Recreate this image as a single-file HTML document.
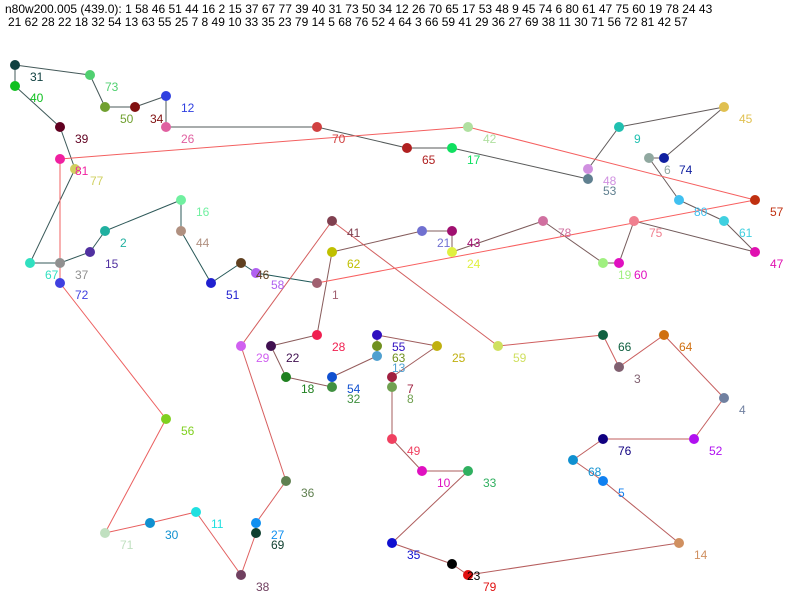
<!DOCTYPE html>
<html><head><meta charset="utf-8"><style>
body{margin:0;background:#fff;width:800px;height:600px;overflow:hidden}
svg{display:block}
text{font-family:"Liberation Sans",sans-serif;font-size:12px}
</style></head><body>
<svg id="s" width="800" height="600" xmlns="http://www.w3.org/2000/svg">
<text x="5" y="13" fill="#000">n80w200.005 (439.0): 1 58 46 51 44 16 2 15 37 67 77 39 40 31 73 50 34 12 26 70 65 17 53 48 9 45 74 6 80 61 47 75 60 19 78 24 43</text>
<text x="8" y="26" fill="#000">21 62 28 22 18 32 54 13 63 55 25 7 8 49 10 33 35 23 79 14 5 68 76 52 4 64 3 66 59 41 29 36 27 69 38 11 30 71 56 72 81 42 57</text>
</svg>
<script>
var N={1:[317,283,"#a06070"],58:[256,273,"#b060f0"],46:[241,263,"#604020"],51:[211,283,"#2020d0"],44:[181,231,"#b09080"],16:[181,200,"#70f0a0"],2:[105,231,"#20b0a0"],15:[90,252,"#5030a0"],37:[60,263,"#909090"],67:[30,263,"#30e0c0"],77:[75,169,"#d0d060"],39:[60,127,"#600020"],40:[15,86,"#10c020"],31:[15,65,"#104040"],73:[90,75,"#50d070"],50:[105,107,"#70a030"],34:[135,107,"#801010"],12:[166,96,"#3040e0"],26:[166,127,"#e060a0"],70:[317,127,"#d04040"],65:[407,148,"#b02020"],17:[452,148,"#10e060"],53:[588,179,"#608090"],48:[588,169,"#d090e0"],9:[619,127,"#20c0b0"],45:[724,107,"#e0c050"],74:[664,158,"#1020a0"],6:[649,158,"#90a8a0"],80:[679,200,"#40c0f0"],61:[724,221,"#40d0e0"],47:[755,252,"#e010b0"],75:[634,221,"#f08090"],60:[619,263,"#e010c0"],19:[603,263,"#a0f080"],78:[543,221,"#d070a0"],24:[452,252,"#e0f040"],43:[452,231,"#a01070"],21:[422,231,"#7070d0"],62:[332,252,"#c0c000"],28:[317,335,"#f02050"],22:[271,346,"#401050"],18:[286,377,"#208020"],32:[332,387,"#409040"],54:[332,377,"#1050d0"],13:[377,356,"#50a0d0"],63:[377,346,"#709020"],55:[377,335,"#3010c0"],25:[437,346,"#c0b010"],7:[392,377,"#a02040"],8:[392,387,"#70a050"],49:[392,439,"#f04060"],10:[422,471,"#e010c0"],33:[468,471,"#30b060"],35:[392,543,"#1010d0"],23:[452,564,"#000000"],79:[468,575,"#e01010"],14:[679,543,"#d09060"],5:[603,481,"#1080f0"],68:[573,460,"#1090d0"],76:[603,439,"#100080"],52:[694,439,"#b010f0"],4:[724,398,"#7080a0"],64:[664,335,"#d07010"],3:[619,367,"#806070"],66:[603,335,"#106040"],59:[498,346,"#d0e060"],41:[332,221,"#804050"],29:[241,346,"#d060f0"],36:[286,481,"#608050"],27:[256,523,"#1090f0"],69:[256,533,"#104030"],38:[241,575,"#704060"],11:[196,512,"#20e0e0"],30:[150,523,"#1090d0"],71:[105,533,"#c0e0c0"],56:[166,419,"#80d020"],72:[60,283,"#4040e0"],81:[60,159,"#f020a0"],42:[468,127,"#b0e0a0"],57:[755,200,"#c03010"]};
var T="1 58 46 51 44 16 2 15 37 67 77 39 40 31 73 50 34 12 26 70 65 17 53 48 9 45 74 6 80 61 47 75 60 19 78 24 43 21 62 28 22 18 32 54 13 63 55 25 7 8 49 10 33 35 23 79 14 5 68 76 52 4 64 3 66 59 41 29 36 27 69 38 11 30 71 56 72 81 42 57".split(" ");
var s=document.getElementById("s"),ns="http://www.w3.org/2000/svg",h="";
for(var i=0;i<T.length;i++){var a=N[T[i]],b=N[T[(i+1)%T.length]],t=i/(T.length-1);
var r=Math.round(0x20+t*(0xf8-0x20)),g=Math.round(0x58+t*(0x60-0x58)),bl=Math.round(0x58+t*(0x60-0x58));
h+='<line x1="'+a[0]+'" y1="'+a[1]+'" x2="'+b[0]+'" y2="'+b[1]+'" stroke="rgb('+r+','+g+','+bl+')" stroke-width="1"/>';}
for(var k in N){var p=N[k];h+='<circle cx="'+p[0]+'" cy="'+p[1]+'" r="5" fill="'+p[2]+'"/>';}
for(var k in N){var p=N[k];h+='<text x="'+(p[0]+15)+'" y="'+(p[1]+16)+'" fill="'+p[2]+'">'+k+'</text>';}
s.insertAdjacentHTML("beforeend",h);
</script>
</body></html>
